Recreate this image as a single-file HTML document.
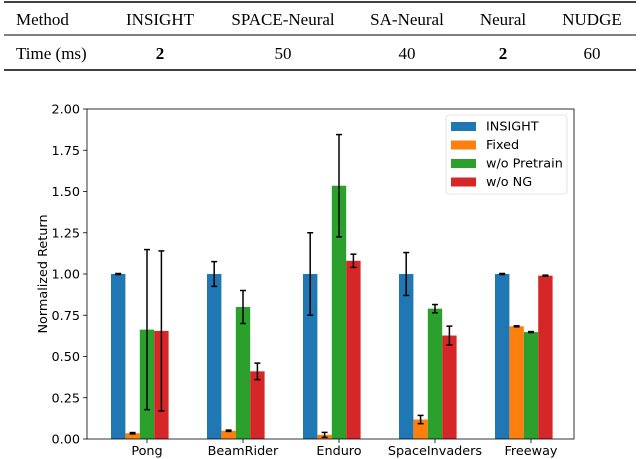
<!DOCTYPE html>
<html><head><meta charset="utf-8"><style>
body{margin:0;background:#fff;width:640px;height:459px;overflow:hidden}
svg{display:block}
.tb{font-family:"Liberation Serif",serif;font-size:17px;fill:#000}
.ax{font-family:"DejaVu Sans","Liberation Sans",sans-serif;font-size:12.8px;fill:#000}
</style></head><body>
<svg id="svg" width="640" height="459">
<g>
<line x1="4" y1="2" x2="636" y2="2" stroke="#000" stroke-width="1.5"/>
<line x1="4" y1="35" x2="636" y2="35" stroke="#000" stroke-width="1"/>
<line x1="4" y1="70" x2="636" y2="70" stroke="#000" stroke-width="1.5"/>
<text class="tb" x="16" y="25">Method</text>
<text class="tb" x="160" y="25" text-anchor="middle">INSIGHT</text>
<text class="tb" x="283" y="25" text-anchor="middle">SPACE-Neural</text>
<text class="tb" x="407" y="25" text-anchor="middle">SA-Neural</text>
<text class="tb" x="503" y="25" text-anchor="middle">Neural</text>
<text class="tb" x="592" y="25" text-anchor="middle">NUDGE</text>
<text class="tb" x="16" y="59">Time (ms)</text>
<text class="tb" x="160" y="59" text-anchor="middle" font-weight="bold">2</text>
<text class="tb" x="283" y="59" text-anchor="middle">50</text>
<text class="tb" x="407" y="59" text-anchor="middle">40</text>
<text class="tb" x="503" y="59" text-anchor="middle" font-weight="bold">2</text>
<text class="tb" x="592" y="59" text-anchor="middle">60</text>
</g>
<g id="chart"></g>
</svg>
<script>
const categories=["Pong","BeamRider","Enduro","SpaceInvaders","Freeway"];
const seriesNames=["INSIGHT","Fixed","w/o Pretrain","w/o NG"];
const seriesColors=["#1f77b4","#ff7f0e","#2ca02c","#d62728"];
const insight=[1.0,1.0,1.0,1.0,1.0];
const insightErr=[0.003,0.075,0.25,0.13,0.003];
const fixed=[0.035,0.05,0.025,0.118,0.683];
const fixedErr=[0.004,0.004,0.015,0.025,0.003];
const pretrain=[0.663,0.80,1.535,0.79,0.648];
const pretrainErr=[0.485,0.10,0.31,0.025,0.003];
const ng=[0.655,0.41,1.08,0.627,0.99];
const ngErr=[0.485,0.05,0.04,0.057,0.003];
const yTicks=[0,0.25,0.5,0.75,1.0,1.25,1.5,1.75,2.0];
const yTickLabels=["0.00","0.25","0.50","0.75","1.00","1.25","1.50","1.75","2.00"];

const NS="http://www.w3.org/2000/svg";
const g=document.getElementById('chart');
const L=87,R=574,T=109,B=439;
const y=v=>B-(v/2)*(B-T);
const groupStep=96,barW=14.4;
const x=(i,s)=>111+i*groupStep+s*barW;
function el(tag,attrs,parent){const e=document.createElementNS(NS,tag);for(const k in attrs)e.setAttribute(k,attrs[k]);(parent||g).appendChild(e);return e;}

const vals=[insight,fixed,pretrain,ng],errs=[insightErr,fixedErr,pretrainErr,ngErr];
vals.forEach((arr,s)=>{arr.forEach((v,i)=>{
  const r=el('rect',{x:x(i,s),y:y(v),width:barW,height:B-y(v),fill:seriesColors[s]});
  
  
});});
vals.forEach((arr,s)=>{arr.forEach((v,i)=>{
  const cx=x(i,s)+barW/2,e=errs[s][i];
  const eg=el('g',{stroke:'#000','stroke-width':1.5});
  
  
  el('line',{x1:cx,x2:cx,y1:y(v-e),y2:y(v+e)},eg);
  el('line',{x1:cx-3,x2:cx+3,y1:y(v-e),y2:y(v-e)},eg);
  el('line',{x1:cx-3,x2:cx+3,y1:y(v+e),y2:y(v+e)},eg);
});});
const frame=el('rect',{x:L,y:T,width:R-L,height:B-T,fill:'none',stroke:'#000','stroke-width':0.8});


yTicks.forEach((t,k)=>{
  el('line',{x1:L-4,x2:L,y1:y(t),y2:y(t),stroke:'#000','stroke-width':0.8});
  const tx=el('text',{x:L-7,y:y(t)+4.5,'text-anchor':'end',class:'ax'});
  tx.textContent=yTickLabels[k];
  
  
});
categories.forEach((c,i)=>{
  const cx=x(i,2)+barW/2;
  el('line',{x1:cx,x2:cx,y1:B,y2:B+4,stroke:'#000','stroke-width':0.8});
  const tx=el('text',{x:cx,y:B+16,'text-anchor':'middle',class:'ax'});
  tx.textContent=c;
  
  
});
const yt=el('text',{x:0,y:0,'text-anchor':'middle',class:'ax',transform:'translate(47,'+((T+B)/2)+') rotate(-90)'});
yt.textContent='Normalized Return';


const lg=el('g',{});


el('rect',{x:446,y:115,width:121,height:79,rx:3,fill:'#fff',stroke:'#ddd','stroke-width':0.8},lg);
seriesNames.forEach((n,s)=>{
  const yy=126+s*18.5;
  const e=el('g',{},lg);
  
  
  el('rect',{x:451,y:yy-4,width:25,height:9,fill:seriesColors[s]},e);
  const t=el('text',{x:486,y:yy+4.5,class:'ax'},e);t.textContent=n;
});
</script>
</body></html>
